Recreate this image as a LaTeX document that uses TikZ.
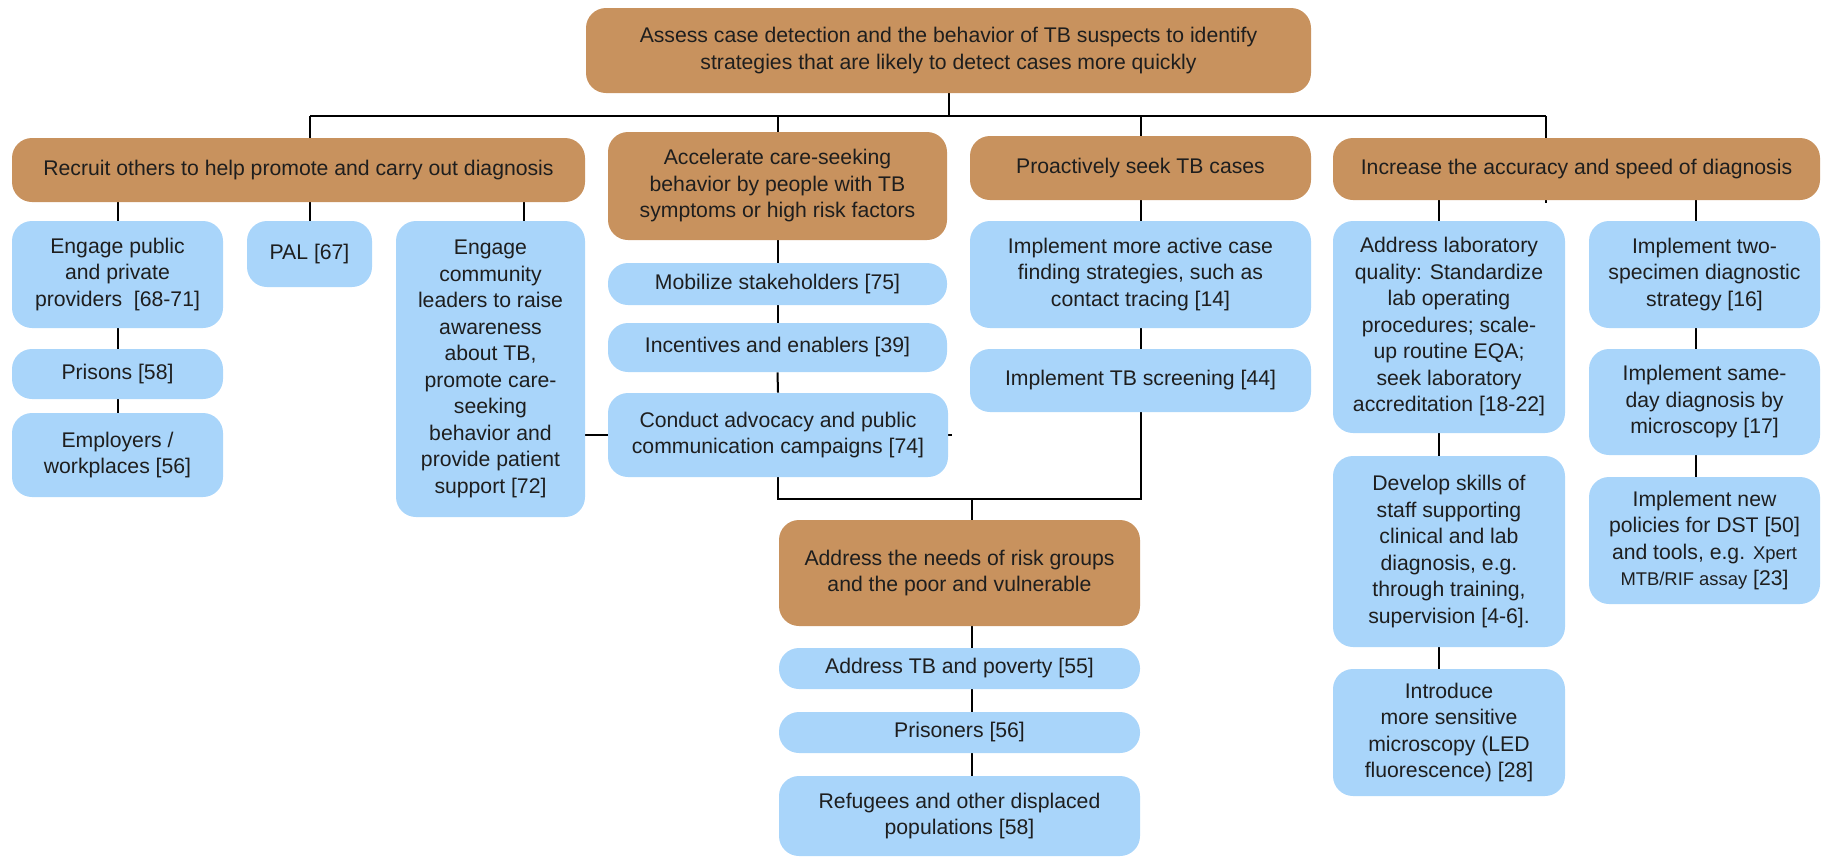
\documentclass[tikz,border=0pt]{standalone}
\usepackage{fontspec}
\setmainfont{Liberation Sans}
\usetikzlibrary{calc,backgrounds}
\definecolor{brownbox}{HTML}{C8925E}
\definecolor{bluebox}{HTML}{A9D5FA}
\definecolor{txt}{HTML}{1E1E1E}
\tikzset{
  base/.style={rounded corners=10pt, align=center, inner sep=0pt, text=txt,
    font=\fontsize{10.6}{13.25}\selectfont},
  goal/.style={base, fill=brownbox},
  act/.style={base, fill=bluebox},
  link/.style={draw=black, line width=1pt},
}
\newcommand\sm[1]{{\fontsize{9.2}{13.25}\selectfont #1}}
\begin{document}
\begin{tikzpicture}[x=0.5pt,y=-0.5pt]
\useasboundingbox (0,0) rectangle (1830,857);
% goals
\node[goal, minimum width=362.5pt, minimum height=42.5pt] (top) at (948.5,50.5)
  {Assess case detection and the behavior of TB suspects to identify\\strategies that are likely to detect cases more quickly};
\node[goal, minimum width=286.5pt, minimum height=32pt] (recruit) at (298.5,170)
  {Recruit others to help promote and carry out diagnosis};
\node[goal, minimum width=169.5pt, minimum height=54pt] (accel) at (777.5,186)
  {Accelerate care-seeking\\behavior by people with TB\\symptoms or high risk factors};
\node[goal, minimum width=170.5pt, minimum height=32pt] (proact) at (1140.5,168)
  {Proactively seek TB cases};
\node[goal, minimum width=243.5pt, minimum height=31pt] (incr) at (1576.5,169)
  {Increase the accuracy and speed of diagnosis};
\node[goal, minimum width=180.5pt, minimum height=53pt] (needs) at (959.5,573)
  {Address the needs of risk groups\\and the poor and vulnerable};
% recruit children
\node[act, minimum width=105.5pt, minimum height=53.5pt] (epub) at (117.5,274.5)
  {Engage public\\and private\\providers~ [68-71]};
\node[act, minimum width=105.5pt, minimum height=25pt] (prisons) at (117.5,374)
  {Prisons [58]};
\node[act, minimum width=105.5pt, minimum height=42pt] (employ) at (117.5,455)
  {Employers /\\workplaces [56]};
\node[act, minimum width=62.5pt, minimum height=33pt] (pal) at (309.5,254)
  {PAL [67]};
\node[act, minimum width=94.5pt, minimum height=148pt] (ecomm) at (490.5,369)
  {Engage\\community\\leaders to raise\\awareness\\about TB,\\promote care-\\seeking\\behavior and\\provide patient\\support [72]};
% accelerate children
\node[act, minimum width=169.5pt, minimum height=21pt] (mobil) at (777.5,284)
  {Mobilize stakeholders [75]};
\node[act, minimum width=169.5pt, minimum height=24.5pt] (incent) at (777.5,347.5)
  {Incentives and enablers [39]};
\node[act, minimum width=170pt, minimum height=42pt] (conduct) at (778,435)
  {Conduct advocacy and public\\communication campaigns [74]};
% needs children
\node[act, minimum width=180.5pt, minimum height=20.5pt] (addtb) at (959.5,668.5)
  {Address TB and poverty [55]};
\node[act, minimum width=180.5pt, minimum height=20.5pt] (prisoners) at (959.5,732.5)
  {Prisoners [56]};
\node[act, minimum width=180.5pt, minimum height=40pt] (refug) at (959.5,816)
  {Refugees and other displaced\\populations [58]};
% proactive children
\node[act, minimum width=170.5pt, minimum height=53.5pt] (active) at (1140.5,274.5)
  {Implement more active case\\finding strategies, such as\\contact tracing [14]};
\node[act, minimum width=170.5pt, minimum height=31.5pt] (screen) at (1140.5,380.5)
  {Implement TB screening [44]};
% increase children
\node[act, minimum width=116pt, minimum height=106pt] (alab) at (1449,327)
  {Address laboratory\\quality: Standardize\\lab operating\\procedures; scale-\\up routine EQA;\\seek laboratory\\accreditation [18-22]};
\node[act, minimum width=116pt, minimum height=95.5pt] (develop) at (1449,551.5)
  {Develop skills of\\staff supporting\\clinical and lab\\diagnosis, e.g.\\through training,\\supervision [4-6].};
\node[act, minimum width=116pt, minimum height=63.5pt] (intro) at (1449,732.5)
  {Introduce\\more sensitive\\microscopy (LED\\fluorescence) [28]};
\node[act, minimum width=115.5pt, minimum height=53.5pt] (two) at (1704.5,274.5)
  {Implement two-\\specimen diagnostic\\strategy [16]};
\node[act, minimum width=115.5pt, minimum height=53pt] (same) at (1704.5,402)
  {Implement same-\\day diagnosis by\\microscopy [17]};
\node[act, minimum width=115.5pt, minimum height=63.5pt] (newp) at (1704.5,540.5)
  {Implement new\\policies for DST [50]\\and tools, e.g. \sm{Xpert}\\\sm{MTB/RIF assay} [23]};
% connectors
\begin{scope}[on background layer]
\coordinate (busL) at (310,116);
\coordinate (busR) at (1546,116);
\draw[link] (top.south) -- (top.south |- busL);
\draw[link] (busL) -- (busR);
\draw[link] (busL) -- (busL |- recruit.north);
\draw[link] (accel.north) -- (accel.north |- busL);
\draw[link] (proact.north) -- (proact.north |- busL);
\draw[link] (busR) -- ($(busR |- incr.south)+(0,3)$);
% recruit
\draw[link] (epub.north) -- (epub.north |- recruit.south);
\draw[link] (pal.north) -- (pal.north |- recruit.south);
\coordinate (ec) at ($(ecomm.north)+(33.5,0)$);
\draw[link] (ec) -- (ec |- recruit.south);
\draw[link] (epub.south) -- (prisons.north);
\draw[link] (prisons.south) -- (employ.north);
% accelerate
\draw[link] (accel.south) -- (mobil.north);
\draw[link] (mobil.south) -- (incent.north);
\draw[link] (incent.south) -- (conduct.north);
\draw[link] (ecomm.east |- conduct.west) -- ($(conduct.east)+(4,0)$);
% join to needs
\coordinate (nbus) at (0,499);
\coordinate (nd) at ($(needs.north)+(12.5,0)$);
\draw[link] (conduct.south) -- (conduct.south |- nbus) -- (screen.south |- nbus) -- (screen.south);
\draw[link] (nd |- nbus) -- (nd);
\draw[link] (nd |- needs.south) -- (nd |- addtb.north);
\draw[link] (nd |- addtb.south) -- (nd |- prisoners.north);
\draw[link] (nd |- prisoners.south) -- (nd |- refug.north);
% proactive
\draw[link] (proact.south) -- (active.north);
\draw[link] (active.south) -- (screen.north);
% increase
\coordinate (ca) at (1439,0);
\coordinate (cb) at (1696,0);
\draw[link] (ca |- incr.south) -- (ca |- alab.north);
\draw[link] (ca |- alab.south) -- (ca |- develop.north);
\draw[link] (ca |- develop.south) -- (ca |- intro.north);
\draw[link] (cb |- incr.south) -- (cb |- two.north);
\draw[link] (cb |- two.south) -- (cb |- same.north);
\draw[link] (cb |- same.south) -- (cb |- newp.north);
\end{scope}
\end{tikzpicture}
\end{document}
